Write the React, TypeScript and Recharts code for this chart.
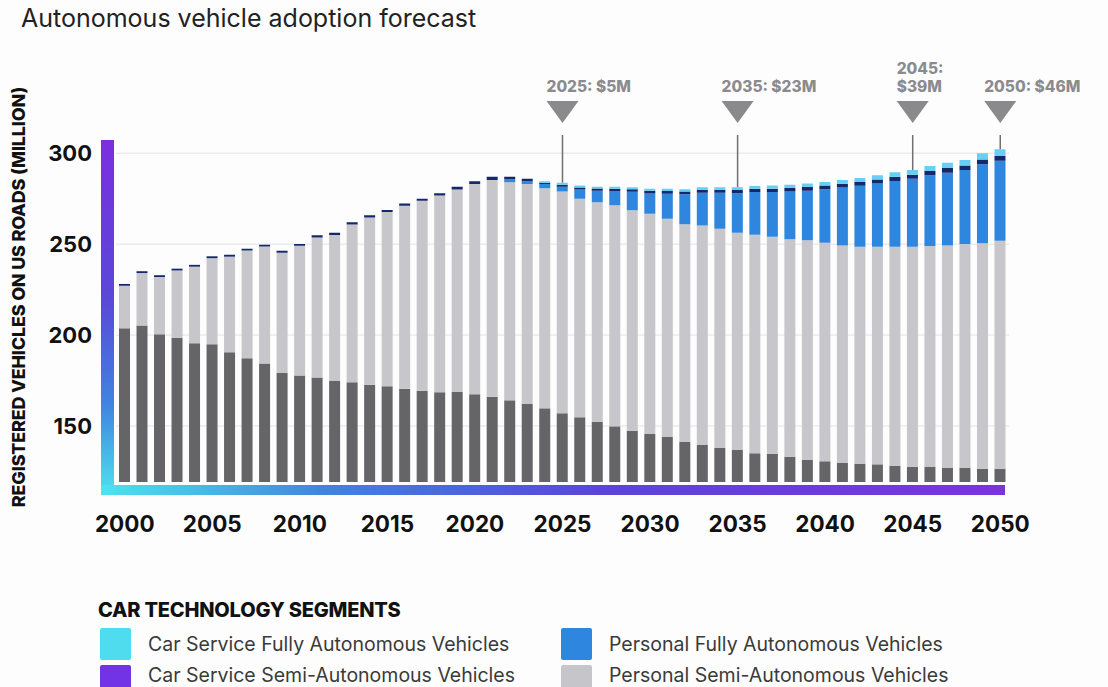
import { BarChart, Bar, XAxis, YAxis, CartesianGrid, ReferenceLine, ReferenceDot } from "recharts";

// Years on the x axis
const years = [
  2000, 2001, 2002, 2003, 2004, 2005, 2006, 2007, 2008, 2009,
  2010, 2011, 2012, 2013, 2014, 2015, 2016, 2017, 2018, 2019,
  2020, 2021, 2022, 2023, 2024, 2025, 2026, 2027, 2028, 2029,
  2030, 2031, 2032, 2033, 2034, 2035, 2036, 2037, 2038, 2039,
  2040, 2041, 2042, 2043, 2044, 2045, 2046, 2047, 2048, 2049,
  2050,
];

// Stacked segments (million vehicles), bottom to top
const nonAutonomous = [
  203.7, 205.2, 200.4, 198.4, 195.5, 194.9, 190.5, 187.2, 184.3, 179.2,
  177.7, 176.6, 174.8, 174.0, 172.7, 171.8, 170.5, 169.4, 168.5, 168.7,
  167.4, 166.1, 164.1, 162.1, 159.7, 157.0, 154.8, 152.2, 149.8, 147.4,
  145.6, 144.0, 141.4, 139.6, 137.9, 136.8, 135.0, 134.6, 133.1, 131.5,
  130.6, 129.7, 129.3, 128.9, 128.2, 127.6, 127.5, 127.1, 127.1, 126.5,
  126.5,
];
const personalSemi = [
  23.4, 28.9, 31.5, 37.1, 42.1, 47.4, 52.6, 59.3, 64.4, 66.1,
  71.4, 77.1, 80.2, 86.8, 92.0, 95.8, 100.6, 104.4, 108.3, 111.3,
  115.7, 119.1, 119.9, 120.9, 121.0, 121.9, 120.2, 120.8, 121.6, 121.2,
  121.1, 119.9, 119.5, 120.6, 120.5, 119.5, 120.2, 119.4, 119.6, 120.6,
  120.2, 119.5, 119.3, 119.7, 120.4, 121.0, 121.5, 122.1, 123.0, 124.0,
  125.3,
];
const personalFully = [
  0, 0, 0, 0, 0, 0, 0, 0, 0, 0,
  0, 0, 0, 0, 0, 0, 0, 0, 0, 0,
  0, 0, 1.7, 1.6, 2.3, 2.7, 5.0, 6.3, 7.8, 10.2,
  11.2, 13.8, 16.5, 18.1, 19.9, 21.7, 23.4, 24.6, 26.2, 27.3,
  29.4, 31.9, 33.5, 34.7, 36.1, 37.3, 38.8, 40.1, 40.6, 43.4,
  44.0,
];
const carServiceSemi = [
  1.0, 1.0, 1.0, 1.0, 1.0, 1.0, 1.0, 1.0, 1.0, 1.0,
  1.0, 1.2, 1.2, 1.2, 1.2, 1.2, 1.2, 1.2, 1.2, 1.5,
  1.5, 1.8, 1.3, 1.3, 0.8, 1.0, 1.2, 1.3, 1.3, 1.4,
  1.4, 1.5, 1.5, 1.6, 1.6, 1.8, 1.8, 1.9, 1.9, 2.0,
  2.0, 2.1, 2.1, 2.2, 2.3, 2.3, 2.4, 2.5, 2.5, 2.6,
  2.7,
];
const carServiceFully = [
  0, 0, 0, 0, 0, 0, 0, 0, 0, 0,
  0, 0, 0, 0, 0, 0, 0, 0, 0, 0,
  0, 0, 0, 0, 0.8, 1.2, 1.0, 1.0, 1.1, 1.1,
  1.2, 1.2, 1.3, 1.4, 1.4, 1.5, 1.6, 1.7, 1.8, 1.9,
  2.0, 2.1, 2.2, 2.4, 2.5, 2.6, 2.8, 3.0, 3.1, 3.5,
  3.7,
];

const yTicks = [150, 200, 250, 300];

// Market value call-outs
const calloutYears = [2025, 2035, 2045, 2050];
const calloutLabels = [["2025: $5M"], ["2035: $23M"], ["2045:", "$39M"], ["2050: $46M"]];

const legendItems = [
  { label: "Car Service Fully Autonomous Vehicles", color: "#4fdcef" },
  { label: "Personal Fully Autonomous Vehicles", color: "#2f86de" },
  { label: "Car Service Semi-Autonomous Vehicles", color: "#7232e6" },
  { label: "Personal Semi-Autonomous Vehicles", color: "#c6c6ca" },
];

const data = years.map((year, i) => ({
  year,
  nonAutonomous: nonAutonomous[i],
  personalSemi: personalSemi[i],
  personalFully: personalFully[i],
  carServiceSemi: carServiceSemi[i],
  carServiceFully: carServiceFully[i],
}));

const totalFor = (year: number) => {
  const i = years.indexOf(year);
  return nonAutonomous[i] + personalSemi[i] + personalFully[i] + carServiceSemi[i] + carServiceFully[i];
};

const Y_MIN = 119.2;
const Y_MAX = 310;
const FONT = "Inter, 'Noto Sans', sans-serif";

const Callout = (props: any) => {
  const { cx, cy, lines } = props;
  const left = cx - 16;
  const top = cy - 34;
  return (
    <g>
      <polygon points={`${cx - 16},${top} ${cx + 16},${top} ${cx},${top + 22}`} fill="#8a8a8d" />
      {lines.map((t: string, k: number) => (
        <text
          key={k}
          x={left}
          y={top - 9 - (lines.length - 1 - k) * 18}
          fill="#8b8b8f"
          fontSize={15.5}
          fontWeight={800}
          fontFamily={FONT}
        >
          {t}
        </text>
      ))}
    </g>
  );
};

const App = () => {
  return (
    <div
      style={{
        position: "absolute",
        left: 0,
        top: 0,
        width: 1108,
        height: 687,
        overflow: "hidden",
        background: "#fdfdfd",
        fontFamily: FONT,
      }}
    >
      {/* Frame, title, axis label and legend */}
      <svg width={1108} height={687} style={{ position: "absolute", left: 0, top: 0 }}>
        <defs>
          <linearGradient id="vGrad" x1="0" y1="0" x2="0" y2="1">
            <stop offset="0%" stopColor="#7a2fe0" />
            <stop offset="45%" stopColor="#5a48d8" />
            <stop offset="75%" stopColor="#3f86e0" />
            <stop offset="100%" stopColor="#50e2f0" />
          </linearGradient>
          <linearGradient id="hGrad" x1="0" y1="0" x2="1" y2="0">
            <stop offset="0%" stopColor="#50e2f0" />
            <stop offset="25%" stopColor="#3f84de" />
            <stop offset="55%" stopColor="#5a46d6" />
            <stop offset="100%" stopColor="#7b34da" />
          </linearGradient>
        </defs>
        <rect x={101} y={140} width={13} height={355} fill="url(#vGrad)" />
        <rect x={101} y={485} width={904} height={10} fill="url(#hGrad)" />
        <rect x={114} y={140} width={4} height={345} fill="#fdfdfd" />

        <text x={21} y={27} fontSize={25} fill="#222" fontFamily={FONT}>
          Autonomous vehicle adoption forecast
        </text>

        <text
          transform="translate(25,297) rotate(-90)"
          textAnchor="middle"
          fontSize={18}
          fontWeight={800}
          fill="#111"
          letterSpacing={-0.2}
          fontFamily={FONT}
        >
          REGISTERED VEHICLES ON US ROADS (MILLION)
        </text>

        <text x={98} y={617} fontSize={20} fontWeight={800} fill="#111" letterSpacing={-0.2} fontFamily={FONT}>
          CAR TECHNOLOGY SEGMENTS
        </text>
        {legendItems.map((item, i) => {
          const col = i % 2;
          const row = Math.floor(i / 2);
          const sx = col === 0 ? 100 : 561;
          const sy = 628 + row * 37;
          return (
            <g key={item.label}>
              <rect x={sx} y={sy} width={31} height={32} rx={2} fill={item.color} />
              <text x={sx + 48} y={sy + 23 - row * 6} fontSize={19.5} fill="#3a3a3a" fontFamily={FONT}>
                {item.label}
              </text>
            </g>
          );
        })}
      </svg>

      <div style={{ position: "absolute", left: 0, top: 0 }}>
        <BarChart
          width={1108}
          height={560}
          data={data}
          margin={{ top: 135, right: 99, bottom: 18, left: 56 }}
          barSize={11}
        >
          <CartesianGrid vertical={false} stroke="#e2e2e5" horizontalValues={yTicks} />
          <XAxis
            dataKey="year"
            interval={4}
            tickLine={false}
            axisLine={false}
            height={60}
            tickMargin={28}
            tick={{ fill: "#111", fontSize: 22.5, fontWeight: 700, fontFamily: FONT }}
          />
          <YAxis
            domain={[Y_MIN, Y_MAX]}
            allowDataOverflow
            ticks={yTicks}
            width={60}
            tickLine={false}
            axisLine={false}
            tickMargin={18}
            tick={{ fill: "#111", fontSize: 22, fontWeight: 700, fontFamily: FONT }}
          />
          <Bar dataKey="nonAutonomous" stackId="a" fill="#656567" isAnimationActive={false} />
          <Bar dataKey="personalSemi" stackId="a" fill="#c7c7cb" isAnimationActive={false} />
          <Bar dataKey="personalFully" stackId="a" fill="#2e86de" isAnimationActive={false} />
          <Bar dataKey="carServiceSemi" stackId="a" fill="#13296b" isAnimationActive={false} />
          <Bar dataKey="carServiceFully" stackId="a" fill="#68cff4" isAnimationActive={false} />

          {calloutYears.map((yr) => (
            <ReferenceLine
              key={`line-${yr}`}
              segment={[
                { x: yr, y: totalFor(yr) },
                { x: yr, y: Y_MAX },
              ]}
              stroke="#6f6f73"
              strokeWidth={1.5}
            />
          ))}
          {calloutYears.map((yr, i) => (
            <ReferenceDot
              key={`dot-${yr}`}
              x={yr}
              y={Y_MAX}
              shape={(p: any) => <Callout {...p} lines={calloutLabels[i]} />}
            />
          ))}
        </BarChart>
      </div>
    </div>
  );
};

export default App;
